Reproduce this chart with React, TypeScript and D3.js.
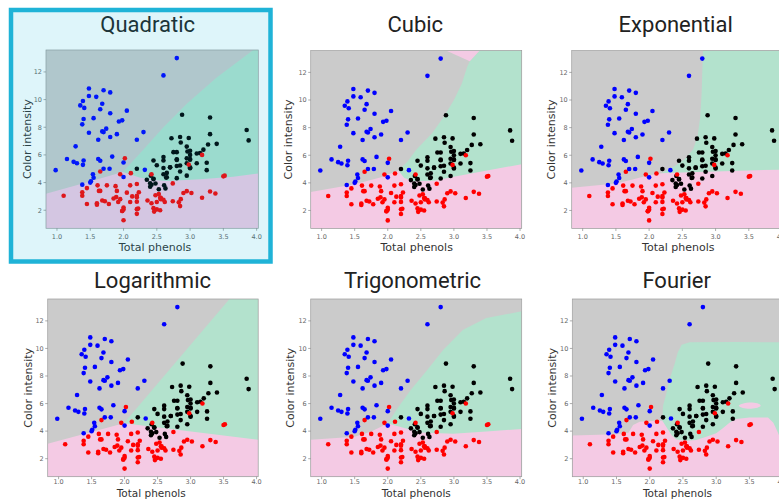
import React from "react";
import * as d3 from "d3";

// wine data: total phenols (x) and colour intensity (y) for the three cultivars
const phenolsA = [2.8, 2.65, 2.8, 3.85, 2.8, 3.27, 2.5, 2.6, 2.8, 2.98, 2.95, 2.2, 2.6, 3.1, 3.3, 2.85, 2.8, 2.95, 3.3, 2.7, 3.0, 2.41, 2.61, 2.48, 2.53, 2.63, 2.85, 2.4, 2.95, 2.65, 3.0, 2.86, 2.42, 2.95, 2.35, 2.7, 2.6, 2.45, 2.4, 3.0, 3.15, 2.45, 3.25, 2.64, 3.0, 2.85, 3.25, 3.1, 2.75, 2.88, 2.72, 2.45, 3.88, 3.0, 2.6, 2.96, 3.2, 3.0, 3.4];
const colorA = [5.64, 4.38, 5.68, 7.8, 4.32, 6.75, 5.25, 5.05, 5.2, 7.22, 5.75, 5.0, 5.6, 5.4, 7.5, 7.3, 6.2, 6.6, 8.7, 5.1, 5.65, 4.5, 3.8, 3.93, 3.52, 3.58, 4.8, 3.95, 4.5, 4.7, 5.7, 6.9, 3.84, 5.4, 4.2, 5.1, 4.6, 4.25, 3.7, 5.1, 6.13, 4.28, 5.43, 4.36, 5.04, 5.24, 4.9, 6.1, 6.2, 8.9, 7.2, 5.6, 7.05, 6.3, 5.85, 6.25, 6.38, 6.0, 6.8];

const phenolsB = [1.98, 2.05, 2.02, 2.1, 3.5, 1.89, 2.42, 2.98, 2.11, 2.53, 1.85, 1.1, 2.95, 1.88, 3.3, 3.38, 1.61, 1.95, 1.72, 1.9, 2.83, 2.42, 2.2, 2.0, 1.65, 2.2, 2.2, 1.78, 1.92, 1.95, 2.2, 1.6, 1.45, 1.38, 2.45, 3.02, 2.5, 1.6, 2.55, 3.52, 2.85, 2.23, 1.45, 2.56, 2.5, 2.2, 1.68, 1.65, 1.38, 2.36, 2.74, 3.18, 2.55, 1.75, 2.48, 2.56, 2.46, 1.98, 2.0, 1.63, 2.0, 2.9, 3.18, 2.2, 2.62, 2.86, 2.6, 2.74, 2.13, 2.22, 2.1];
const colorB = [1.95, 3.27, 5.75, 3.8, 4.45, 2.95, 4.6, 5.3, 4.68, 3.17, 2.85, 3.05, 3.38, 3.74, 3.35, 3.21, 3.8, 4.6, 2.65, 3.4, 2.57, 2.5, 3.9, 2.2, 4.8, 3.05, 2.62, 2.45, 2.6, 2.8, 1.74, 2.4, 3.6, 3.05, 2.15, 3.25, 2.6, 2.5, 2.9, 4.5, 2.3, 3.3, 2.45, 2.8, 2.06, 2.94, 2.7, 3.4, 3.3, 2.7, 2.65, 2.9, 2.0, 3.8, 3.08, 2.9, 1.9, 1.95, 2.06, 3.4, 1.28, 3.25, 6.0, 2.08, 2.6, 2.8, 2.76, 3.94, 3.0, 2.12, 2.6];

const phenolsC = [1.51, 1.3, 1.15, 1.7, 2.0, 1.62, 1.38, 1.79, 1.62, 2.32, 1.54, 1.4, 1.55, 2.0, 1.38, 1.5, 0.98, 1.7, 1.93, 1.41, 1.4, 1.48, 2.2, 1.8, 1.48, 1.74, 1.8, 1.9, 2.8, 2.6, 2.3, 1.83, 1.65, 1.39, 1.35, 1.28, 1.7, 1.48, 1.55, 1.98, 1.25, 1.39, 1.68, 1.68, 1.8, 1.59, 1.65, 2.05];
const colorC = [4.1, 5.4, 5.7, 5.0, 5.45, 7.1, 3.85, 5.0, 5.7, 4.92, 4.6, 5.6, 4.35, 4.4, 8.21, 4.0, 4.9, 7.65, 8.42, 9.4, 8.6, 10.8, 7.1, 10.52, 7.6, 7.9, 9.01, 7.5, 13.0, 11.75, 7.65, 5.88, 5.58, 5.28, 9.58, 6.62, 10.68, 10.26, 8.66, 8.5, 5.5, 9.9, 9.7, 7.7, 7.3, 10.2, 9.3, 9.2];

const titles = ["Quadratic", "Cubic", "Exponential", "Logarithmic", "Trigonometric", "Fourier"];
const xTicks = [1.0, 1.5, 2.0, 2.5, 3.0, 3.5, 4.0];
const yTicks = [2, 4, 6, 8, 10, 12];
const xDomain = [0.835, 4.025];
const yDomain = [0.694, 13.586];

type Pt = [number, number];

// decision regions (data coordinates); grey is the background
const greenRegions: Pt[][] = [
  [[1.99, 4.77], [2.3, 6.4], [2.6, 8.0], [2.95, 9.7], [3.4, 11.6], [3.95, 13.586], [4.025, 13.586], [4.025, 0.694], [1.99, 0.694]],
  [[2.16, 4.9], [2.3, 5.55], [2.43, 6.4], [2.67, 7.6], [2.85, 8.8], [3.0, 10.0], [3.12, 11.2], [3.2, 12.4], [3.24, 12.8], [3.39, 13.586], [4.025, 13.586], [4.025, 0.694], [2.16, 0.694]],
  [[2.18, 4.7], [2.38, 5.2], [2.53, 5.69], [2.66, 6.4], [2.73, 7.37], [2.77, 8.82], [2.79, 10.5], [2.81, 13.586], [4.025, 13.586], [4.025, 0.694], [2.18, 0.694]],
  [[1.99, 4.58], [3.59, 13.586], [4.025, 13.586], [4.025, 0.694], [1.99, 0.694]],
  [[2.0, 4.55], [2.15, 5.67], [2.35, 7.0], [2.6, 8.45], [2.84, 9.9], [3.14, 11.35], [3.49, 12.2], [4.025, 12.7], [4.025, 0.694], [2.0, 0.694]],
  [[2.19, 4.76], [2.2, 5.84], [2.24, 6.55], [2.3, 7.76], [2.38, 8.96], [2.42, 9.68], [2.48, 10.27], [2.6, 10.44], [3.3, 10.46], [4.025, 10.45], [4.025, 0.694], [2.19, 0.694]],
];

const pinkRegions: Pt[][][] = [
  [[[0.835, 0.694], [0.835, 3.2], [1.4, 3.95], [1.99, 4.77], [2.24, 4.36], [2.45, 4.18], [2.65, 4.12], [3.15, 4.24], [3.65, 4.43], [4.025, 4.65], [4.025, 0.694]]],
  [
    [[0.835, 0.694], [0.835, 3.33], [1.5, 3.9], [1.9, 4.4], [2.16, 4.9], [2.25, 4.35], [2.4, 4.12], [2.7, 4.15], [3.0, 4.45], [3.5, 4.9], [4.025, 5.35], [4.025, 0.694]],
    [[2.88, 13.586], [3.24, 12.8], [3.39, 13.586]],
  ],
  [[[0.835, 0.694], [0.835, 3.64], [1.5, 3.95], [1.75, 4.24], [2.0, 4.55], [2.18, 4.7], [2.6, 4.76], [3.0, 4.83], [3.5, 4.9], [4.025, 4.96], [4.025, 0.694]]],
  [[[0.835, 0.694], [0.835, 3.09], [1.99, 4.58], [4.025, 3.38], [4.025, 0.694]]],
  [[[0.835, 0.694], [0.835, 3.38], [1.5, 3.6], [1.75, 3.98], [2.0, 4.55], [2.25, 4.22], [2.5, 3.9], [2.99, 3.81], [3.49, 3.98], [4.025, 4.15], [4.025, 0.694]]],
  [
    [[0.835, 0.694], [0.835, 3.68], [1.5, 3.78], [1.68, 3.88], [1.75, 4.45], [1.85, 4.68], [2.1, 4.76], [2.19, 4.76], [2.25, 4.3], [2.33, 3.7], [2.4, 3.4], [2.55, 3.3], [2.7, 3.35], [2.85, 3.6], [3.0, 3.85], [3.1, 4.2], [3.2, 4.6], [3.3, 4.88], [3.5, 4.98], [3.78, 4.98], [3.86, 4.6], [3.92, 4.0], [3.97, 3.4], [4.025, 3.2], [4.025, 0.694]],
  ],
];

// small pink island inside the Fourier green region
const fourierIsland: Pt[] = [[3.34, 5.85], [3.42, 6.03], [3.5, 6.08], [3.62, 6.02], [3.67, 5.85], [3.6, 5.68], [3.5, 5.63], [3.4, 5.68]];

const GRAY = "#cbcbcb";
const GREEN = "#b3e2cd";
const PINK = "#f4cae4";

const layouts = [
  { left: 46, top: 50, w: 212.3, h: 178.3, tx: 147.7, ty: 32, lx: 155, ly: 250.5, yl: 27.3, tickDy: 8, xlSize: 11 },
  { left: 310.7, top: 50.5, w: 211, h: 178, tx: 415.3, ty: 32, lx: 416.7, ly: 250.5, yl: 288.3, tickDy: 8, xlSize: 11 },
  { left: 571.7, top: 50.5, w: 212, h: 178, tx: 675.7, ty: 32, lx: 678.3, ly: 250.5, yl: 550.7, tickDy: 8, xlSize: 11 },
  { left: 47.7, top: 299, w: 210.5, h: 177.7, tx: 152.5, ty: 288, lx: 151.2, ly: 496.5, yl: 28.3, tickDy: 5, xlSize: 10.5 },
  { left: 310.7, top: 299, w: 211, h: 177.7, tx: 412.5, ty: 288, lx: 416.3, ly: 496.5, yl: 290, tickDy: 5, xlSize: 10.5 },
  { left: 572.3, top: 299, w: 212, h: 177.7, tx: 676.7, ty: 288, lx: 677.5, ly: 496.5, yl: 551.7, tickDy: 5, xlSize: 10.5 },
];

const Panel = ({ idx }: { idx: number }) => {
  const lay = layouts[idx];
  const x = d3.scaleLinear().domain(xDomain).range([lay.left, lay.left + lay.w]);
  const y = d3.scaleLinear().domain(yDomain).range([lay.top + lay.h, lay.top]);
  const poly = d3.line<Pt>().x((d) => x(d[0])).y((d) => y(d[1])).curve(d3.curveLinearClosed);
  const blob = d3.line<Pt>().x((d) => x(d[0])).y((d) => y(d[1])).curve(d3.curveCatmullRomClosed);
  const clipId = `plot-clip-${idx}`;
  const bottom = lay.top + lay.h;

  const dots = (px: number[], py: number[], fill: string) =>
    px.map((v, i) => <circle key={fill + i} cx={x(v)} cy={y(py[i])} r={2.3} fill={fill} />);

  return (
    <g>
      <defs>
        <clipPath id={clipId}>
          <rect x={lay.left} y={lay.top} width={lay.w} height={lay.h} />
        </clipPath>
      </defs>
      <g clipPath={`url(#${clipId})`}>
        <rect x={lay.left} y={lay.top} width={lay.w} height={lay.h} fill={GRAY} />
        <path d={poly(greenRegions[idx]) || ""} fill={GREEN} />
        {pinkRegions[idx].map((p, i) => (
          <path key={i} d={poly(p) || ""} fill={PINK} />
        ))}
        {idx === 5 && <path d={blob(fourierIsland) || ""} fill={PINK} />}
      </g>
      <rect x={lay.left} y={lay.top} width={lay.w} height={lay.h} fill="none" stroke="#9a9a9a" strokeWidth={0.7} />
      {dots(phenolsA, colorA, "#000000")}
      {dots(phenolsB, colorB, "#ff0000")}
      {dots(phenolsC, colorC, "#0000ff")}

      {xTicks.map((t) => (
        <g key={"x" + t}>
          <line x1={x(t)} x2={x(t)} y1={bottom} y2={bottom + 2.5} stroke="#777" strokeWidth={0.6} />
          <text x={x(t)} y={bottom + lay.tickDy} dy="0.35em" textAnchor="middle" fontSize={6.5} fill="#666" fontFamily="DejaVu Sans">
            {t.toFixed(1)}
          </text>
        </g>
      ))}
      {yTicks.map((t) => (
        <g key={"y" + t}>
          <line x1={lay.left - 2.5} x2={lay.left} y1={y(t)} y2={y(t)} stroke="#777" strokeWidth={0.6} />
          <text x={lay.left - 4} y={y(t)} dy="0.35em" textAnchor="end" fontSize={6.5} fill="#666" fontFamily="DejaVu Sans">
            {t}
          </text>
        </g>
      ))}

      <text x={lay.lx} y={lay.ly} textAnchor="middle" fontSize={lay.xlSize} fill="#333" fontFamily="DejaVu Sans">
        Total phenols
      </text>
      <text
        transform={`translate(${lay.yl},${lay.top + lay.h / 2}) rotate(-90)`}
        dy="0.35em"
        textAnchor="middle"
        fontSize={11}
        fill="#333"
        fontFamily="DejaVu Sans"
      >
        Color intensity
      </text>
      <text x={lay.tx} y={lay.ty} textAnchor="middle" fontSize={22} fill="#222" fontFamily="Roboto">
        {titles[idx]}
      </text>
    </g>
  );
};

export default function App() {
  return (
    <svg width={779} height={503} style={{ position: "absolute", left: 0, top: 0, background: "#fff" }}>
      <rect x={0} y={0} width={779} height={503} fill="#fff" />
      {titles.map((_, i) => (
        <Panel key={i} idx={i} />
      ))}
      {/* highlighted first panel */}
      <rect x={11} y={10} width={259.5} height={251.5} fill="rgb(0,180,216)" fillOpacity={0.13} />
      <rect x={11} y={10} width={259.5} height={251.5} fill="none" stroke="#1fb3d7" strokeWidth={4.5} />
    </svg>
  );
}
